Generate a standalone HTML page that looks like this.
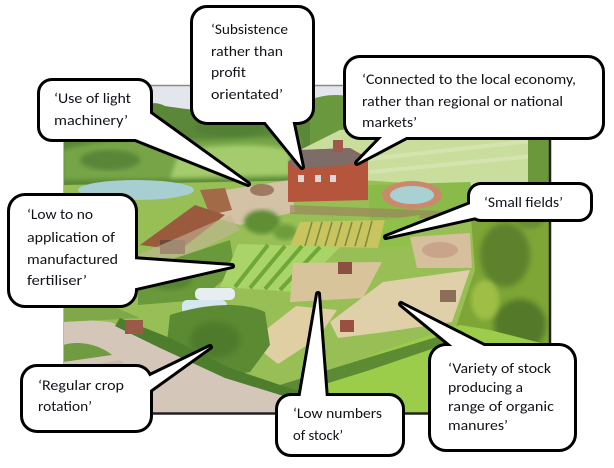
<!DOCTYPE html>
<html><head><meta charset="utf-8"><style>
html,body{margin:0;padding:0;background:#fff;}
body{width:614px;height:468px;overflow:hidden;}
svg{display:block;}
.t{font-family:Carlito,"Liberation Sans",sans-serif;font-size:14px;fill:#111118;}
</style></head><body>
<svg width="614" height="468" viewBox="0 0 614 468" xmlns="http://www.w3.org/2000/svg">
<defs>
<clipPath id="pic"><rect x="63" y="86" width="486" height="327"/></clipPath>
<filter id="blur2"><feGaussianBlur stdDeviation="2"/></filter>
<filter id="blur3"><feGaussianBlur stdDeviation="3"/></filter>
</defs>

<g clip-path="url(#pic)">
  <rect x="63" y="86" width="486" height="327" fill="#97bf56"/>
  <rect x="63" y="86" width="486" height="30" fill="#e4e6ee"/>
  <!-- top-left hills -->
  <path d="M63,125 C85,118 105,112 125,112 C140,104 155,100 165,106 C190,110 220,112 250,118 C275,120 300,118 320,110 L320,180 L63,185 Z" fill="#5a8838"/>
  <path d="M63,150 C100,140 140,135 180,140 C220,142 260,135 300,138 L300,178 L63,180 Z" fill="#76a447" filter="url(#blur2)"/>
  <path d="M180,150 C220,145 260,142 290,150 L290,175 L170,178 Z" fill="#a4cc6c" filter="url(#blur2)"/>
  <ellipse cx="110" cy="160" rx="30" ry="10" fill="#4d7a30" opacity="0.7" filter="url(#blur2)"/>
  <ellipse cx="230" cy="128" rx="35" ry="8" fill="#4d7a30" opacity="0.6" filter="url(#blur2)"/>
  <!-- top center trees -->
  <path d="M310,100 C330,92 350,95 360,100 L360,150 L310,150 Z" fill="#6a983f"/>
  <!-- top right pale field -->
  <path d="M300,150 L340,130 L540,112 L549,112 L549,200 L520,195 L440,185 L360,180 L310,170 Z" fill="#c9dd9c"/>
  <path d="M360,160 L540,140 M370,172 L545,155" stroke="#dbe8b8" stroke-width="4" opacity="0.7"/>
  <rect x="528" y="95" width="21" height="110" fill="#6a983a"/>
  <!-- pond left -->
  <ellipse cx="136" cy="190" rx="58" ry="10" fill="#a7ced0"/>
  <!-- yard near tractor -->
  <path d="M225,190 L290,180 L295,212 L240,225 L205,215 Z" fill="#d3c2a6"/>
  <ellipse cx="262" cy="190" rx="12" ry="6" fill="#8a5a48" opacity="0.7"/>
  <!-- house -->
  <polygon points="288,162 300,150 350,148 368,158 368,200 288,202" fill="#b5563c"/>
  <polygon points="288,162 300,150 350,148 368,160 340,166 295,168" fill="#7e6c68"/>
  <rect x="333" y="140" width="10" height="12" fill="#a0584a"/>
  <rect x="298" y="175" width="6" height="7" fill="#dcd8d8"/><rect x="315" y="175" width="6" height="7" fill="#dcd8d8"/><rect x="330" y="175" width="6" height="7" fill="#dcd8d8"/>
  <!-- gardens near house -->
  <path d="M368,185 L470,182 L480,215 L370,222 Z" fill="#8aba4a"/>
  <ellipse cx="412" cy="195" rx="30" ry="14" fill="#c88a6a"/>
  <ellipse cx="412" cy="195" rx="22" ry="9" fill="#a9d1d4"/>
  <path d="M290,205 L470,212 L470,220 L290,214 Z" fill="#9b7e5e" opacity="0.6"/>
  <!-- barn left -->
  <polygon points="200,190 225,188 232,210 210,215" fill="#a36a48"/>
  <polygon points="140,245 195,205 225,215 180,250" fill="#9a5a3e"/>
  <rect x="160" y="240" width="25" height="14" fill="#6b4a36"/>
  <path d="M138,255 L230,215 L240,230 L150,275 L138,275 Z" fill="#c4b49a" opacity="0.6"/>
  <!-- trees between barn and house -->
  <ellipse cx="262" cy="222" rx="18" ry="12" fill="#5e8e34" filter="url(#blur2)"/>
  <ellipse cx="285" cy="232" rx="12" ry="8" fill="#6e9c3c" filter="url(#blur2)"/>
  <!-- left mid trees -->
  <path d="M138,270 C170,260 200,250 230,240 L235,270 L200,300 L138,305 Z" fill="#6a993b"/>
  <ellipse cx="170" cy="280" rx="22" ry="10" fill="#4f7e2e" opacity="0.7" filter="url(#blur2)"/>
  <!-- vineyard rows -->
  <polygon points="300,222 385,220 378,248 290,246" fill="#c8c460"/>
  <g stroke="#7d8a3c" stroke-width="1.5">
    <line x1="305" y1="246" x2="312" y2="222"/><line x1="315" y1="246" x2="322" y2="222"/><line x1="325" y1="246" x2="332" y2="222"/><line x1="335" y1="246" x2="342" y2="222"/><line x1="345" y1="246" x2="352" y2="222"/><line x1="355" y1="246" x2="362" y2="222"/><line x1="365" y1="247" x2="372" y2="221"/>
  </g>
  <polygon points="385,220 420,215 410,245 378,248" fill="#8ec04a"/>
  <!-- striped crop fields -->
  <polygon points="238,244 340,247 296,292 220,287" fill="#a9d468"/>
  <g stroke="#6fa838" stroke-width="4">
    <line x1="250" y1="288" x2="285" y2="246"/><line x1="265" y1="289" x2="302" y2="246"/><line x1="280" y1="290" x2="320" y2="247"/><line x1="235" y1="287" x2="268" y2="245"/>
  </g>
  <!-- greenhouses -->
  <rect x="195" y="288" width="40" height="12" rx="5" fill="#e6eef2"/>
  <rect x="182" y="300" width="45" height="14" rx="5" fill="#d4e6f0"/>
  <!-- paddocks -->
  <polygon points="293,263 382,262 363,298 290,302" fill="#d8c49a"/>
  <polygon points="410,237 470,233 472,268 417,268" fill="#d6bf9c"/>
  <polygon points="383,282 470,270 452,322 385,332 338,338 330,322" fill="#dfd0aa"/>
  <polygon points="250,342 296,306 337,310 318,338 278,364" fill="#dfcfa2"/>
  <ellipse cx="440" cy="250" rx="18" ry="8" fill="#b88a78" opacity="0.5"/>
  <rect x="338" y="262" width="14" height="12" fill="#8c5040"/>
  <rect x="440" y="290" width="16" height="12" fill="#8a6e58"/>
  <rect x="340" y="320" width="14" height="12" fill="#9a5040"/>
  <!-- trees area lower left -->
  <path d="M170,315 C200,305 240,300 265,312 L270,345 L250,372 L200,380 L165,360 Z" fill="#5b8a33"/>
  <ellipse cx="215" cy="340" rx="25" ry="18" fill="#466f27" opacity="0.6" filter="url(#blur3)"/>
  <!-- right dense trees -->
  <path d="M470,205 L549,195 L549,413 L470,413 L455,330 L475,270 Z" fill="#7ea636"/>
  <ellipse cx="505" cy="255" rx="25" ry="32" fill="#55792a" opacity="0.8" filter="url(#blur3)"/>
  <ellipse cx="520" cy="325" rx="26" ry="26" fill="#4a6e26" opacity="0.8" filter="url(#blur3)"/>
  <ellipse cx="485" cy="300" rx="14" ry="20" fill="#a6c44a" opacity="0.8" filter="url(#blur2)"/>
  <ellipse cx="530" cy="215" rx="16" ry="14" fill="#5e8430" opacity="0.7" filter="url(#blur2)"/>
  <!-- bottom green field -->
  <path d="M250,395 L330,370 L400,345 L460,325 L490,330 L549,345 L549,413 L250,413 Z" fill="#9ccd4a"/>
  <path d="M280,385 L360,360 L460,330 L470,336 L370,370 L290,395 Z" fill="#4e7a2e" opacity="0.8"/>
  <!-- bottom left road & hedge -->
  <path d="M63,318 L110,322 L160,340 L225,368 L290,392 L330,398 L330,413 L63,413 Z" fill="#d4c7b9"/>
  <path d="M63,300 L110,305 L140,318 L63,322 Z" fill="#7fa848"/>
  <path d="M120,318 L170,338 L230,368 L295,390 L330,394 L330,400 L290,398 L225,378 L160,348 L115,326 Z" fill="#4f7d2e"/>
  <path d="M63,345 C80,340 100,345 112,355 L63,362 Z" fill="#6f9c40"/>
  <path d="M63,370 L120,360 L150,385 L63,400 Z" fill="#bcb0a2" opacity="0.6"/>
  <rect x="125" y="320" width="18" height="14" fill="#9a5a48"/>
</g>
<!-- frame -->
<line x1="63" y1="85.5" x2="549" y2="85.5" stroke="#8a8a8a" stroke-width="1.5"/>
<line x1="63.5" y1="86" x2="63.5" y2="413" stroke="#b8b8b8" stroke-width="1"/>
<line x1="550" y1="86" x2="550" y2="414" stroke="#222" stroke-width="2.5"/>
<line x1="63" y1="413.5" x2="551" y2="413.5" stroke="#222" stroke-width="2.5"/>

<!-- bubble outlines -->
<g fill="#000" stroke="#000" stroke-width="6" stroke-linejoin="round">
  <rect x="40" y="81" width="110" height="58" rx="12"/>
  <polygon points="128,136 248,184 148,112"/>
  <rect x="193" y="8" width="119" height="114" rx="14"/>
  <polygon points="263,119 302,167 292,119"/>
  <rect x="346" y="58" width="256" height="79" rx="14"/>
  <polygon points="385,134 357,163 412,134"/>
  <rect x="10" y="196" width="125" height="109" rx="15"/>
  <polygon points="132,259 232,266 132,289"/>
  <rect x="470" y="185" width="120" height="34" rx="11"/>
  <polygon points="473,203 386,237 481,216"/>
  <rect x="23" y="367" width="127" height="63" rx="14"/>
  <polygon points="146,378 210,347 146,393"/>
  <rect x="278" y="396" width="124" height="58" rx="13"/>
  <polygon points="300,399 318,294 326,399"/>
  <rect x="431" y="346" width="143" height="103" rx="15"/>
  <polygon points="456,349 401,304 490,349"/>
</g>
<g fill="#fff">
  <rect x="40" y="81" width="110" height="58" rx="12"/>
  <polygon points="128,136 248,184 148,112"/>
  <rect x="193" y="8" width="119" height="114" rx="14"/>
  <polygon points="263,119 302,167 292,119"/>
  <rect x="346" y="58" width="256" height="79" rx="14"/>
  <polygon points="385,134 357,163 412,134"/>
  <rect x="10" y="196" width="125" height="109" rx="15"/>
  <polygon points="132,259 232,266 132,289"/>
  <rect x="470" y="185" width="120" height="34" rx="11"/>
  <polygon points="473,203 386,237 481,216"/>
  <rect x="23" y="367" width="127" height="63" rx="14"/>
  <polygon points="146,378 210,347 146,393"/>
  <rect x="278" y="396" width="124" height="58" rx="13"/>
  <polygon points="300,399 318,294 326,399"/>
  <rect x="431" y="346" width="143" height="103" rx="15"/>
  <polygon points="456,349 401,304 490,349"/>
</g>

<!-- texts -->
<g class="t">
  <text x="54" y="103" textLength="77" lengthAdjust="spacingAndGlyphs">‘Use of light</text>
  <text x="54" y="125" textLength="74" lengthAdjust="spacingAndGlyphs">machinery’</text>

  <text x="211" y="34" textLength="77" lengthAdjust="spacingAndGlyphs">‘Subsistence</text>
  <text x="211" y="56" textLength="72" lengthAdjust="spacingAndGlyphs">rather than</text>
  <text x="211" y="77" textLength="35" lengthAdjust="spacingAndGlyphs">profit</text>
  <text x="211" y="99" textLength="72" lengthAdjust="spacingAndGlyphs">orientated’</text>

  <text x="362" y="84" textLength="214" lengthAdjust="spacingAndGlyphs">‘Connected to the local economy,</text>
  <text x="362" y="106" textLength="201" lengthAdjust="spacingAndGlyphs">rather than regional or national</text>
  <text x="362" y="127" textLength="55" lengthAdjust="spacingAndGlyphs">markets’</text>

  <text x="27" y="219" textLength="66" lengthAdjust="spacingAndGlyphs">‘Low to no</text>
  <text x="27" y="242" textLength="88" lengthAdjust="spacingAndGlyphs">application of</text>
  <text x="27" y="264" textLength="91" lengthAdjust="spacingAndGlyphs">manufactured</text>
  <text x="27" y="285" textLength="60" lengthAdjust="spacingAndGlyphs">fertiliser’</text>

  <text x="484" y="207" textLength="79" lengthAdjust="spacingAndGlyphs">‘Small fields’</text>

  <text x="38" y="390" textLength="86" lengthAdjust="spacingAndGlyphs">‘Regular crop</text>
  <text x="38" y="411" textLength="54" lengthAdjust="spacingAndGlyphs">rotation’</text>

  <text x="293" y="418" textLength="89" lengthAdjust="spacingAndGlyphs">‘Low numbers</text>
  <text x="293" y="440" textLength="50" lengthAdjust="spacingAndGlyphs">of stock’</text>

  <text x="448" y="373" textLength="103" lengthAdjust="spacingAndGlyphs">‘Variety of stock</text>
  <text x="448" y="392" textLength="75" lengthAdjust="spacingAndGlyphs">producing a</text>
  <text x="448" y="411" textLength="106" lengthAdjust="spacingAndGlyphs">range of organic</text>
  <text x="448" y="430" textLength="60" lengthAdjust="spacingAndGlyphs">manures’</text>
</g>
</svg>
</body></html>
